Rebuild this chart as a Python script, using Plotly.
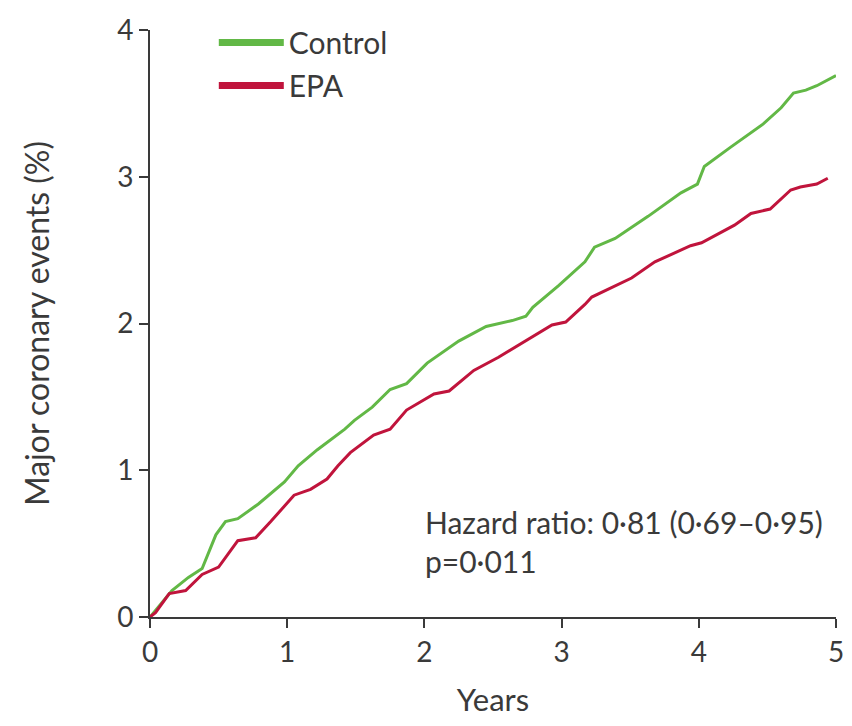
import plotly.graph_objects as go

# (years, cumulative %)
control_years = [0, 0.08, 0.16, 0.28, 0.38, 0.48, 0.55, 0.64, 0.79, 0.98, 1.08, 1.22, 1.29,
                 1.42, 1.49, 1.62, 1.75, 1.87, 2.02, 2.25, 2.45, 2.64, 2.74, 2.79, 2.98,
                 3.17, 3.24, 3.39, 3.63, 3.87, 3.99, 4.04, 4.23, 4.47, 4.60, 4.69, 4.78,
                 4.86, 5.0]
control_pct = [0, 0.09, 0.18, 0.27, 0.33, 0.56, 0.65, 0.67, 0.77, 0.92, 1.03, 1.14, 1.19,
               1.28, 1.34, 1.43, 1.55, 1.59, 1.73, 1.88, 1.98, 2.02, 2.05, 2.11, 2.26,
               2.42, 2.52, 2.58, 2.73, 2.89, 2.95, 3.07, 3.20, 3.36, 3.47, 3.57, 3.59,
               3.62, 3.69]

epa_years = [0, 0.04, 0.14, 0.26, 0.38, 0.50, 0.64, 0.77, 0.88, 1.05, 1.17, 1.29, 1.37,
             1.46, 1.63, 1.75, 1.87, 2.07, 2.18, 2.36, 2.54, 2.74, 2.93, 3.03, 3.17,
             3.22, 3.51, 3.68, 3.94, 4.02, 4.26, 4.38, 4.52, 4.67, 4.74, 4.86, 4.94]
epa_pct = [0, 0.03, 0.16, 0.18, 0.29, 0.34, 0.52, 0.54, 0.65, 0.83, 0.87, 0.94, 1.03,
           1.12, 1.24, 1.28, 1.41, 1.52, 1.54, 1.68, 1.77, 1.88, 1.99, 2.01, 2.13,
           2.18, 2.31, 2.42, 2.53, 2.55, 2.67, 2.75, 2.78, 2.91, 2.93, 2.95, 2.99]

x_ticks = [0, 1, 2, 3, 4, 5]
y_ticks = [0, 1, 2, 3, 4]

stats_text = "Hazard ratio: 0·81 (0·69–0·95)<br>p=0·011"

FONT = "Lato"
INK = "#3a3a3a"
GREEN = "#62b846"
RED = "#c0143c"

fig = go.Figure()

# the curves themselves (thin), legend handled by the keys below
fig.add_trace(go.Scatter(
    x=control_years, y=control_pct, mode="lines", name="Control",
    line=dict(color=GREEN, width=3), showlegend=False,
))
fig.add_trace(go.Scatter(
    x=epa_years, y=epa_pct, mode="lines", name="EPA",
    line=dict(color=RED, width=3), showlegend=False,
))

# legend keys are drawn thicker in the original
fig.add_trace(go.Scatter(x=[None], y=[None], mode="lines", name="Control",
                         line=dict(color=GREEN, width=7), legendgroup="c"))
fig.add_trace(go.Scatter(x=[None], y=[None], mode="lines", name="EPA",
                         line=dict(color=RED, width=7), legendgroup="e"))

fig.add_annotation(
    x=1.99, y=0.785, xref="x", yref="y", text=stats_text, showarrow=False,
    xanchor="left", yanchor="top", align="left",
    font=dict(family=FONT, size=30, color=INK),
)

# page body adds an 8px margin all round, so keep the figure inside 852x726
# and stop the template's automargin from shrinking the plot area
fig.update_layout(
    width=836, height=710,
    margin=dict(l=142, r=8, t=18, b=101),
    paper_bgcolor="white", plot_bgcolor="white",
    font=dict(family=FONT, size=28, color=INK),
    showlegend=True,
    legend=dict(x=0.093, y=1.023, xanchor="left", yanchor="top",
                font=dict(size=30, color=INK), bgcolor="rgba(0,0,0,0)",
                traceorder="grouped", tracegroupgap=1, itemwidth=65),
    xaxis=dict(
        range=[0, 5], tickvals=x_ticks, showgrid=False, zeroline=False,
        showline=True, linecolor=INK, linewidth=2, automargin=False,
        ticks="outside", ticklen=9, tickwidth=2, tickcolor=INK,
        tickfont=dict(size=28), ticklabeloverflow="allow",
        title=dict(text="Years", font=dict(size=31), standoff=28),
    ),
    yaxis=dict(
        range=[0, 4], tickvals=y_ticks, showgrid=False, zeroline=False,
        showline=True, linecolor=INK, linewidth=2, automargin=False,
        ticks="outside", ticklen=9, tickwidth=2, tickcolor=INK,
        tickfont=dict(size=28), ticklabeloverflow="allow",
        title=dict(text="Major coronary events (%)", font=dict(size=32), standoff=58),
    ),
)

fig.write_html("out.html")
